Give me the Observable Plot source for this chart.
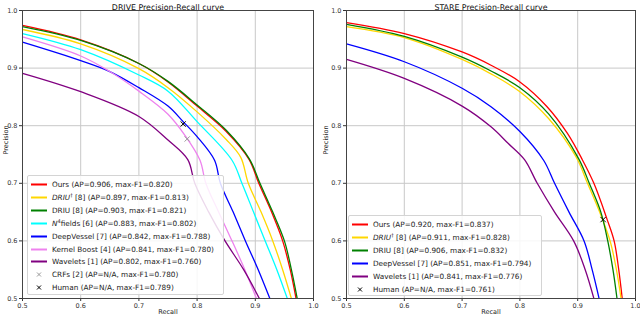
<!DOCTYPE html>
<html><head><meta charset="utf-8">
<script src="https://cdn.jsdelivr.net/npm/d3@7"></script>
<script src="https://cdn.jsdelivr.net/npm/@observablehq/plot@0.6"></script>
<style>
body{margin:0;background:#fff;}
#wrap{position:relative;width:640px;height:318px;overflow:hidden;font-family:"DejaVu Sans",sans-serif;background:#fff;}
.panel{position:absolute;top:0;}
.legend{position:absolute;background:rgba(255,255,255,0.85);border:1px solid #d4d4d4;border-radius:2px;font-size:7.3px;color:#222;box-sizing:border-box;}
.row{position:absolute;left:0;height:13px;line-height:13px;white-space:nowrap;}
.row svg{position:absolute;left:1px;top:0;}
.row span{position:absolute;left:24px;top:0;}
sup{font-size:5px;vertical-align:top;line-height:9px;}
</style>
</head><body>
<div id="wrap">
  <div id="left" class="panel" style="left:0"></div>
  <div id="right" class="panel" style="left:320px"></div>
</div>
<script>
const xTicks = [0.5, 0.6, 0.7, 0.8, 0.9, 1.0];
const yTicks = [0.5, 0.6, 0.7, 0.8, 0.9, 1.0];

// ---- DRIVE ----
const driveTitle = "DRIVE Precision-Recall curve";
const driveLabels = [
  "Ours (AP=0.906, max-F1=0.820)",
  "<i>DRIU</i><sup>†</sup> [8] (AP=0.897, max-F1=0.813)",
  "DRIU [8] (AP=0.903, max-F1=0.821)",
  "<i>N</i><sup>4</sup>fields [6] (AP=0.883, max-F1=0.802)",
  "DeepVessel [7] (AP=0.842, max-F1=0.788)",
  "Kernel Boost [4] (AP=0.841, max-F1=0.780)",
  "Wavelets [1] (AP=0.802, max-F1=0.760)"
];
const driveColors = ["#ff0000", "#ffd700", "#008000", "#00ffff", "#0000ff", "#ee82ee", "#800080"];
const driveOurs = [[0.5,0.974],[0.6,0.949],[0.7,0.908],[0.75,0.876],[0.8,0.834],[0.85,0.790],[0.889,0.742],[0.906,0.70],[0.928,0.65],[0.947,0.60],[0.960,0.55],[0.970,0.50]];
const driveDriuDag = [[0.5,0.967],[0.6,0.942],[0.7,0.899],[0.75,0.866],[0.8,0.824],[0.85,0.776],[0.875,0.745],[0.888,0.70],[0.910,0.65],[0.930,0.60],[0.947,0.55],[0.962,0.50]];
const driveDriu = [[0.5,0.972],[0.6,0.948],[0.7,0.908],[0.75,0.877],[0.8,0.836],[0.85,0.792],[0.890,0.742],[0.908,0.70],[0.930,0.65],[0.950,0.60],[0.962,0.55],[0.972,0.50]];
const driveN4 = [[0.5,0.960],[0.6,0.932],[0.7,0.888],[0.75,0.860],[0.8,0.807],[0.86,0.740],[0.877,0.70],[0.897,0.65],[0.917,0.60],[0.937,0.55],[0.955,0.50]];
const driveDeepVessel = [[0.5,0.945],[0.6,0.913],[0.65,0.894],[0.7,0.866],[0.75,0.834],[0.776,0.807],[0.8,0.781],[0.83,0.740],[0.84,0.70],[0.862,0.65],[0.883,0.60],[0.905,0.55],[0.925,0.50]];
const driveKernelBoost = [[0.5,0.954],[0.6,0.921],[0.65,0.894],[0.7,0.860],[0.75,0.820],[0.78,0.782],[0.805,0.740],[0.815,0.70],[0.837,0.65],[0.860,0.60],[0.882,0.55],[0.902,0.50]];
const driveWavelets = [[0.5,0.891],[0.6,0.859],[0.7,0.816],[0.75,0.775],[0.784,0.741],[0.796,0.70],[0.820,0.65],[0.848,0.60],[0.880,0.55],[0.907,0.50]];
const driveMarkerLabels = ["CRFs [2] (AP=N/A, max-F1=0.780)", "Human (AP=N/A, max-F1=0.789)"];
const driveMarkerColors = ["#999999", "#000000"];
const driveMarkers = [[0.783,0.777],[0.776,0.803]];

// ---- STARE ----
const stareTitle = "STARE Precision-Recall curve";
const stareLabels = [
  "Ours (AP=0.920, max-F1=0.837)",
  "<i>DRIU</i><sup>†</sup> [8] (AP=0.911, max-F1=0.828)",
  "DRIU [8] (AP=0.906, max-F1=0.832)",
  "DeepVessel [7] (AP=0.851, max-F1=0.794)",
  "Wavelets [1] (AP=0.841, max-F1=0.776)"
];
const stareColors = ["#ff0000", "#ffd700", "#008000", "#0000ff", "#800080"];
const stareOurs = [[0.5,0.979],[0.6,0.960],[0.7,0.928],[0.75,0.905],[0.8,0.876],[0.847,0.833],[0.882,0.787],[0.908,0.741],[0.928,0.70],[0.951,0.637],[0.963,0.60],[0.971,0.55],[0.977,0.50]];
const stareDriuDag = [[0.5,0.972],[0.6,0.953],[0.7,0.915],[0.75,0.890],[0.8,0.859],[0.85,0.812],[0.897,0.746],[0.917,0.70],[0.938,0.65],[0.956,0.60],[0.967,0.55],[0.975,0.50]];
const stareDriu = [[0.5,0.976],[0.6,0.955],[0.7,0.919],[0.75,0.895],[0.8,0.866],[0.85,0.820],[0.902,0.742],[0.920,0.70],[0.940,0.65],[0.952,0.60],[0.961,0.55],[0.968,0.50]];
const stareDeepVessel = [[0.5,0.942],[0.6,0.911],[0.7,0.865],[0.75,0.833],[0.8,0.790],[0.841,0.740],[0.860,0.70],[0.885,0.65],[0.911,0.60],[0.925,0.55],[0.937,0.50]];
const stareWavelets = [[0.5,0.915],[0.6,0.882],[0.7,0.834],[0.75,0.798],[0.78,0.769],[0.808,0.741],[0.830,0.70],[0.860,0.65],[0.893,0.60],[0.913,0.55],[0.928,0.50]];
const stareMarkerLabels = ["Human (AP=N/A, max-F1=0.761)"];
const stareMarkerColors = ["#000000"];
const stareMarkers = [[0.944,0.637]];

const driveSeries = [driveOurs, driveDriuDag, driveDriu, driveN4, driveDeepVessel, driveKernelBoost, driveWavelets];
const stareSeries = [stareOurs, stareDriuDag, stareDriu, stareDeepVessel, stareWavelets];

function panel(title, series, colors, markers, markerColors, mL, mR) {
  const marks = [
    Plot.gridX(xTicks, {stroke: "#c8c8c8", strokeOpacity: 1, strokeWidth: 1}),
    Plot.gridY(yTicks, {stroke: "#c8c8c8", strokeOpacity: 1, strokeWidth: 1}),
    Plot.axisX(xTicks, {tickFormat: d => d.toFixed(1), tickSize: 3, tickPadding: 2, label: null, fontSize: 6.5}),
    Plot.axisY(yTicks, {tickFormat: d => d.toFixed(1), tickSize: 3, tickPadding: 2, label: null, fontSize: 6.5})
  ];
  series.forEach((s, i) => {
    marks.push(Plot.line(s, {x: d => d[0], y: d => d[1], stroke: colors[i], strokeWidth: 1.3, curve: "catmull-rom", clip: true}));
  });
  markers.forEach((m, i) => {
    marks.push(Plot.dot([m], {x: d => d[0], y: d => d[1], symbol: "times", r: 2.5, stroke: markerColors[i], strokeWidth: 1}));
  });
  marks.push(Plot.frame({stroke: "#444", strokeWidth: 1}));
  marks.push(Plot.text([title], {frameAnchor: "top", dy: -6, fontSize: 7.85, fill: "#111"}));
  marks.push(Plot.text(["Recall"], {frameAnchor: "bottom", dy: 15, fontSize: 6.5, fill: "#222"}));
  marks.push(Plot.text(["Precision"], {frameAnchor: "left", rotate: -90, dx: -mL + 5, fontSize: 6.5, fill: "#222"}));
  return Plot.plot({
    width: 320, height: 318,
    marginLeft: mL, marginRight: mR, marginTop: 10, marginBottom: 20,
    x: {domain: [0.5, 1.0]},
    y: {domain: [0.5, 1.0]},
    style: {fontFamily: "DejaVu Sans, sans-serif", fontSize: "6.5px", color: "#333", background: "white", overflow: "visible"},
    marks
  });
}

function legend(parent, left, top, width, labels, colors, mLabels, mColors) {
  const box = document.createElement("div");
  box.className = "legend";
  const n = labels.length + mLabels.length;
  const rowH = 12.9;
  box.style.left = left + "px";
  box.style.top = top + "px";
  box.style.width = width + "px";
  box.style.height = (n * rowH + 4) + "px";
  let k = 0;
  labels.forEach((lab, i) => {
    const row = document.createElement("div");
    row.className = "row";
    row.style.top = (2 + k * rowH) + "px";
    row.innerHTML = `<svg width="20" height="13"><line x1="2" x2="18" y1="6.5" y2="6.5" stroke="${colors[i]}" stroke-width="2"/></svg><span>${lab}</span>`;
    box.appendChild(row); k++;
  });
  mLabels.forEach((lab, i) => {
    const row = document.createElement("div");
    row.className = "row";
    row.style.top = (2 + k * rowH) + "px";
    row.innerHTML = `<svg width="20" height="13"><path d="M8,4.5L12,8.5M12,4.5L8,8.5" stroke="${mColors[i]}" stroke-width="1"/></svg><span>${lab}</span>`;
    box.appendChild(row); k++;
  });
  parent.appendChild(box);
}

document.getElementById("left").appendChild(panel(driveTitle, driveSeries, driveColors, driveMarkers, driveMarkerColors, 22, 7));
document.getElementById("right").appendChild(panel(stareTitle, stareSeries, stareColors, stareMarkers, stareMarkerColors, 26, 5));

const wrap = document.getElementById("wrap");
legend(wrap, 27, 175, 197, driveLabels, driveColors, driveMarkerLabels, driveMarkerColors);
legend(wrap, 348, 215, 194, stareLabels, stareColors, stareMarkerLabels, stareMarkerColors);
</script>
</body></html>
